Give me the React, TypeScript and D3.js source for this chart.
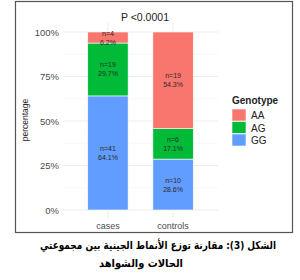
import * as d3 from 'd3'

const groups = ['cases', 'controls']
const genotypes = ['GG', 'AG', 'AA']
const legendOrder = ['AA', 'AG', 'GG']
const counts: Record<string, number[]> = { cases: [41, 19, 4], controls: [10, 6, 19] }
const percents: Record<string, number[]> = { cases: [64.1, 29.7, 6.2], controls: [28.6, 17.1, 54.3] }
const yTicks = [0, 25, 50, 75, 100]
const colors: Record<string, string> = { AA: '#F8766D', AG: '#00BA38', GG: '#619CFF' }

export default function App() {
  const panel = { left: 63, right: 218, top: 23, bottom: 219 }
  const x = d3.scaleBand<string>().domain(groups).range([panel.left, panel.right]).padding(0.38)
  const y = d3.scaleLinear().domain([0, 100]).range([210, 32])
  const minor = d3.range(12.5, 100, 25)
  const font = 'Liberation Sans, Arial, sans-serif'

  const segs = groups.flatMap((g) => {
    let acc = 0
    return genotypes.map((gt, i) => {
      const p = percents[g][i]
      const s = { g, gt, y0: acc, y1: acc + p, n: counts[g][i], p }
      acc += p
      return s
    })
  })

  return (
    <svg width={300} height={280} style={{ position: 'absolute', left: 0, top: 0, background: '#fff' }}>
      <rect x={15.5} y={1.5} width={277} height={231} fill="#fff" stroke="#555" strokeWidth={1.2} />
      <text x={145} y={21} textAnchor="middle" fontFamily={font} fontSize={10.5} fill="#222">P &lt;0.0001</text>
      {minor.map((t) => (
        <line key={'m' + t} x1={panel.left} x2={panel.right} y1={y(t)} y2={y(t)} stroke="#f2f2f2" strokeWidth={0.6} />
      ))}
      {yTicks.map((t) => (
        <g key={t}>
          <line x1={panel.left} x2={panel.right} y1={y(t)} y2={y(t)} stroke="#ebebeb" strokeWidth={0.9} />
          <text x={59} y={y(t) + 3.5} textAnchor="end" fontFamily={font} fontSize={9.5} fill="#4d4d4d">{t}%</text>
        </g>
      ))}
      {groups.map((g) => (
        <line key={'v' + g} x1={x(g)! + x.bandwidth() / 2} x2={x(g)! + x.bandwidth() / 2} y1={panel.top} y2={panel.bottom} stroke="#ebebeb" strokeWidth={0.9} />
      ))}
      {segs.map((s) => (
        <g key={s.g + s.gt}>
          <rect x={x(s.g)!} y={y(s.y1)} width={x.bandwidth()} height={y(s.y0) - y(s.y1)} fill={colors[s.gt]} stroke="#fff" strokeWidth={0.6} />
          <text x={x(s.g)! + x.bandwidth() / 2} y={y((s.y0 + s.y1) / 2) - 2} textAnchor="middle" fontFamily={font} fontSize={7} fill="#2a2a2a">n={s.n}</text>
          <text x={x(s.g)! + x.bandwidth() / 2} y={y((s.y0 + s.y1) / 2) + 7} textAnchor="middle" fontFamily={font} fontSize={7} fill="#2a2a2a">{s.p.toFixed(1)}%</text>
        </g>
      ))}
      {groups.map((g) => (
        <text key={'xl' + g} x={x(g)! + x.bandwidth() / 2} y={229} textAnchor="middle" fontFamily={font} fontSize={9} fill="#4d4d4d">{g}</text>
      ))}
      <text transform="translate(28,120) rotate(-90)" textAnchor="middle" fontFamily={font} fontSize={8.5} fill="#222">percentage</text>
      <text x={232} y={104} fontFamily={font} fontSize={10} fontWeight="bold" fill="#222">Genotype</text>
      {legendOrder.map((gt, i) => (
        <g key={'lg' + gt}>
          <rect x={232} y={109 + i * 12.5} width={14} height={12} fill={colors[gt]} stroke="#fff" strokeWidth={0.6} />
          <text x={251} y={119 + i * 12.5} fontFamily={font} fontSize={10} fill="#222">{gt}</text>
        </g>
      ))}
      <text x={158} y={249} textAnchor="middle" direction="rtl" fontFamily="DejaVu Sans, sans-serif" fontSize={11} fontWeight="bold" fill="#000" textLength={236} lengthAdjust="spacingAndGlyphs">الشكل (3): مقارنة توزع الأنماط الجينية بين مجموعتي</text>
      <text x={141} y={267} textAnchor="middle" direction="rtl" fontFamily="DejaVu Sans, sans-serif" fontSize={11} fontWeight="bold" fill="#000" textLength={84} lengthAdjust="spacingAndGlyphs">الحالات والشواهد</text>
    </svg>
  )
}
